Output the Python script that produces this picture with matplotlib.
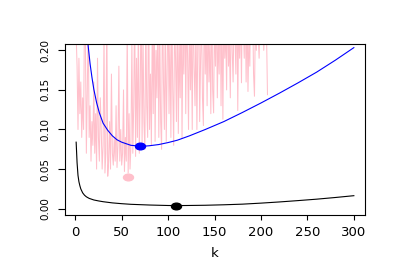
import matplotlib
matplotlib.use("Agg")
import matplotlib.pyplot as plt
from matplotlib.path import Path
from matplotlib.transforms import Affine2D

# noisy estimate (pink), k = 1..207
pink_vals = [
    0.22, 0.18, 0.10, 0.19, 0.12, 0.16, 0.09, 0.14, 0.10, 0.25, 0.21, 0.07, 0.15, 0.24, 0.09,
    0.13, 0.06, 0.11, 0.08, 0.16, 0.07, 0.12, 0.05, 0.19, 0.09, 0.06, 0.14, 0.10, 0.05, 0.08,
    0.22, 0.045, 0.07, 0.25, 0.041, 0.06, 0.11, 0.05, 0.17, 0.07, 0.055, 0.09, 0.06, 0.13, 0.052,
    0.08, 0.18, 0.06, 0.10, 0.055, 0.07, 0.15, 0.047, 0.09, 0.06, 0.23, 0.045, 0.12, 0.05, 0.08,
    0.21, 0.07, 0.13, 0.26, 0.066, 0.19, 0.09, 0.24, 0.07, 0.15,
    0.28, 0.08, 0.22, 0.11, 0.075, 0.25, 0.13, 0.09, 0.30, 0.10,
    0.17, 0.08, 0.24, 0.12, 0.27, 0.085, 0.20, 0.14, 0.26, 0.09,
    0.23, 0.11, 0.075, 0.29, 0.16, 0.10, 0.25, 0.085, 0.18, 0.27,
    0.12, 0.22, 0.09, 0.26, 0.15, 0.08, 0.24, 0.19, 0.11, 0.28,
    0.095, 0.21, 0.14, 0.27, 0.089, 0.23, 0.17, 0.30, 0.12, 0.25,
    0.19, 0.10, 0.26, 0.15, 0.22, 0.10, 0.28, 0.18, 0.13, 0.24,
    0.10, 0.21, 0.27, 0.11, 0.19, 0.25, 0.14, 0.105, 0.29, 0.17,
    0.23, 0.13, 0.26, 0.16, 0.21, 0.12, 0.28, 0.15, 0.121, 0.25,
    0.18, 0.27, 0.14, 0.22, 0.17, 0.30, 0.13, 0.24, 0.113, 0.26,
    0.19, 0.23, 0.15, 0.28, 0.18, 0.21, 0.14, 0.27, 0.20, 0.16,
    0.25, 0.22, 0.17, 0.29, 0.124, 0.24, 0.19, 0.26, 0.159, 0.28,
    0.23, 0.19, 0.27, 0.16, 0.25, 0.148, 0.22, 0.18, 0.29, 0.21,
    0.26, 0.17, 0.142, 0.24, 0.20, 0.28, 0.22, 0.19, 0.25, 0.27,
    0.21, 0.26, 0.20, 0.23, 0.28, 0.22, 0.144,
]
pink_k = list(range(1, len(pink_vals) + 1))

blue_k = [12, 14, 16, 18, 20, 23, 26, 30, 35, 40, 45, 50, 55, 60, 65, 70, 75, 80,
          90, 100, 110, 123, 140, 160, 180, 200, 220, 240, 260, 280, 300]
blue_vals = [0.23, 0.205, 0.183, 0.166, 0.151, 0.134, 0.121, 0.108, 0.099, 0.092, 0.087,
             0.084, 0.082, 0.080, 0.0795, 0.079, 0.079, 0.0795, 0.081, 0.0835, 0.0865,
             0.092, 0.100, 0.110, 0.1215, 0.1335, 0.146, 0.159, 0.1725, 0.1875, 0.2034]

black_k = [1, 2, 3, 4, 5, 6, 8, 10, 12, 15, 20, 25, 30, 40, 50, 60, 80, 100, 110, 120,
           140, 160, 180, 200, 220, 240, 260, 280, 300]
black_vals = [0.084, 0.058, 0.042, 0.034, 0.029, 0.025, 0.020, 0.017, 0.015, 0.013, 0.011,
              0.0098, 0.0088, 0.0073, 0.0063, 0.0055, 0.0046, 0.0040, 0.0039, 0.0040,
              0.0043, 0.0049, 0.0057, 0.0070, 0.0085, 0.0102, 0.0120, 0.0141, 0.0164]

# minima
pink_min = (57, 0.040)
blue_min = (70, 0.079)
black_min = (109, 0.0038)

xticks = [0, 50, 100, 150, 200, 250, 300]
yticks = [0.00, 0.05, 0.10, 0.15, 0.20]

W, H = 399, 271
fig = plt.figure(figsize=(W / 100, H / 100), dpi=100)
ax = fig.add_axes([65 / W, (H - 215) / H, 300 / W, 171 / H])

ax.plot(pink_k, pink_vals, color="pink", lw=0.75)
ax.plot(blue_k, blue_vals, color="blue", lw=0.8)
ax.plot(black_k, black_vals, color="black", lw=0.8)

# R-style filled dots, a bit wider than tall
ell = Path.unit_circle().transformed(Affine2D().scale(1.5, 1.0))
for (px, py), c in [(pink_min, "pink"), (blue_min, "blue"), (black_min, "black")]:
    ax.plot([px], [py], marker=ell, markersize=7.2, color=c, ls="none")

ax.set_xlim(-11, 312)
ax.set_ylim(-0.008, 0.208)
ax.set_xticks(xticks)
ax.set_xticklabels([str(t) for t in xticks], fontsize=9.5)
ax.set_yticks(yticks)
ax.set_yticklabels([f"{t:.2f}" for t in yticks], fontsize=7.5, rotation=90, va="center")
ax.tick_params(axis="x", length=3.6, width=0.8, pad=4)
ax.tick_params(axis="y", length=5.4, width=0.8, pad=5)
for s in ax.spines.values():
    s.set_linewidth(0.8)
ax.set_xlabel("k", fontsize=9.5, labelpad=6)

fig.savefig("out.png", dpi=100)
